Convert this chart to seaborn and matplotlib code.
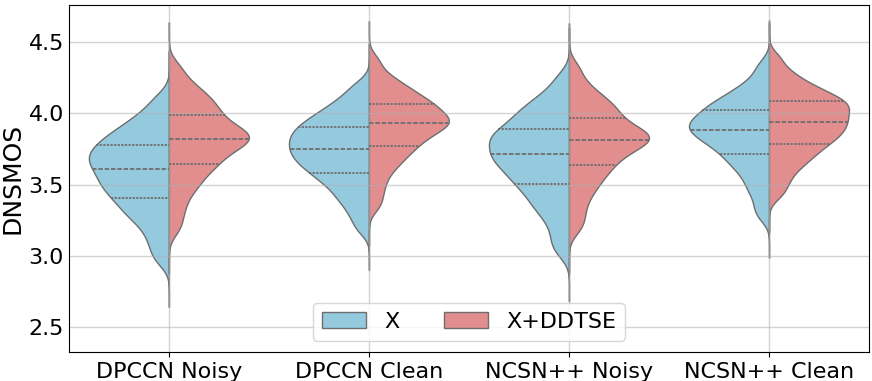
import matplotlib.pyplot as plt
import seaborn as sns
import pandas as pd

# Models on the x axis and the two systems compared in each split violin
models = ['DPCCN Noisy', 'DPCCN Clean', 'NCSN++ Noisy', 'NCSN++ Clean']
systems = ['X', 'X+DDTSE']

# DNSMOS scores per model / system (40 each)
dpccn_noisy_x = [2.97, 3.05, 3.12, 3.18, 3.23, 3.27, 3.30, 3.33, 3.36, 3.39,
                 3.41, 3.435, 3.46, 3.48, 3.50, 3.52, 3.54, 3.56, 3.58, 3.60,
                 3.62, 3.637, 3.654, 3.671, 3.688, 3.705, 3.722, 3.74, 3.758, 3.776,
                 3.795, 3.815, 3.84, 3.86, 3.885, 3.91, 3.95, 3.98, 4.035, 4.11]
dpccn_noisy_ddtse = [3.19, 3.28, 3.355, 3.42, 3.47, 3.51, 3.54, 3.58, 3.61, 3.63,
                     3.65, 3.68, 3.70, 3.72, 3.74, 3.758, 3.775, 3.79, 3.803, 3.816,
                     3.829, 3.842, 3.855, 3.868, 3.882, 3.898, 3.915, 3.935, 3.957, 3.98,
                     4.00, 4.02, 4.05, 4.07, 4.10, 4.12, 4.16, 4.19, 4.245, 4.325]
dpccn_clean_x = [3.19, 3.27, 3.33, 3.38, 3.42, 3.45, 3.49, 3.52, 3.54, 3.56,
                 3.59, 3.61, 3.63, 3.64, 3.66, 3.68, 3.70, 3.71, 3.73, 3.74,
                 3.76, 3.775, 3.79, 3.81, 3.82, 3.84, 3.85, 3.87, 3.89, 3.90,
                 3.92, 3.94, 3.96, 3.98, 4.00, 4.03, 4.06, 4.09, 4.14, 4.20]
dpccn_clean_ddtse = [3.35, 3.43, 3.50, 3.56, 3.61, 3.645, 3.675, 3.71, 3.73, 3.755,
                     3.775, 3.80, 3.82, 3.835, 3.85, 3.87, 3.885, 3.90, 3.915, 3.925,
                     3.935, 3.945, 3.96, 3.97, 3.985, 4.00, 4.015, 4.03, 4.045, 4.06,
                     4.075, 4.09, 4.11, 4.13, 4.155, 4.175, 4.20, 4.24, 4.28, 4.37]
ncsn_noisy_x = [3.03, 3.11, 3.19, 3.26, 3.31, 3.35, 3.39, 3.42, 3.46, 3.49,
                3.51, 3.54, 3.56, 3.59, 3.61, 3.63, 3.65, 3.67, 3.69, 3.71,
                3.72, 3.74, 3.76, 3.78, 3.80, 3.82, 3.835, 3.85, 3.865, 3.88,
                3.91, 3.935, 3.96, 3.98, 4.01, 4.04, 4.07, 4.11, 4.16, 4.25]
ncsn_noisy_ddtse = [3.19, 3.265, 3.335, 3.40, 3.45, 3.49, 3.53, 3.56, 3.59, 3.62,
                    3.64, 3.67, 3.69, 3.71, 3.73, 3.75, 3.766, 3.781, 3.795, 3.808,
                    3.82, 3.832, 3.844, 3.856, 3.869, 3.883, 3.899, 3.917, 3.938, 3.96,
                    3.98, 4.00, 4.03, 4.05, 4.07, 4.10, 4.135, 4.17, 4.23, 4.32]
ncsn_clean_x = [3.28, 3.355, 3.43, 3.48, 3.53, 3.57, 3.61, 3.64, 3.665, 3.69,
                3.72, 3.74, 3.76, 3.78, 3.80, 3.815, 3.83, 3.85, 3.86, 3.875,
                3.89, 3.90, 3.915, 3.93, 3.94, 3.955, 3.97, 3.985, 4.00, 4.02,
                4.035, 4.055, 4.07, 4.09, 4.11, 4.14, 4.17, 4.20, 4.26, 4.34]
ncsn_clean_ddtse = [3.43, 3.50, 3.555, 3.605, 3.64, 3.67, 3.70, 3.725, 3.745, 3.77,
                    3.79, 3.81, 3.825, 3.84, 3.86, 3.875, 3.89, 3.905, 3.92, 3.935,
                    3.95, 3.965, 3.98, 3.995, 4.01, 4.025, 4.04, 4.055, 4.07, 4.08,
                    4.095, 4.11, 4.13, 4.15, 4.17, 4.19, 4.22, 4.26, 4.30, 4.385]

scores = {
    ('DPCCN Noisy', 'X'): dpccn_noisy_x,
    ('DPCCN Noisy', 'X+DDTSE'): dpccn_noisy_ddtse,
    ('DPCCN Clean', 'X'): dpccn_clean_x,
    ('DPCCN Clean', 'X+DDTSE'): dpccn_clean_ddtse,
    ('NCSN++ Noisy', 'X'): ncsn_noisy_x,
    ('NCSN++ Noisy', 'X+DDTSE'): ncsn_noisy_ddtse,
    ('NCSN++ Clean', 'X'): ncsn_clean_x,
    ('NCSN++ Clean', 'X+DDTSE'): ncsn_clean_ddtse,
}

rows = []
for (model, system), vals in scores.items():
    for v in vals:
        rows.append((model, system, v))
df = pd.DataFrame(rows, columns=['Model', 'System', 'DNSMOS'])

fig, ax = plt.subplots(figsize=(8.72, 3.81), dpi=100)
fig.subplots_adjust(left=0.079, right=0.9966, bottom=0.076, top=0.988)

# one call per model so each pair is scaled on its own (old scale_hue look)
for i, model in enumerate(models):
    sns.violinplot(data=df[df['Model'] == model], x='Model', y='DNSMOS',
                   hue='System', order=models, hue_order=systems,
                   split=True, inner='quart',
                   palette=['skyblue', 'lightcoral'], linecolor='#6e6e6e',
                   linewidth=1, bw_adjust=0.5, cut=5,
                   inner_kws={'linewidth': 1.3}, legend=(i == 0), ax=ax)

# grid sits over the fills, half transparent like the original
ax.grid(True, color='#b0b0b0', alpha=0.55, linewidth=1)
ax.set_ylim(2.325, 4.763)
ax.set_xlabel('')
ax.set_ylabel('DNSMOS', fontsize=18, labelpad=3)
ax.tick_params(labelsize=16)
ax.tick_params(axis='y', length=0)
sns.move_legend(ax, 'lower center', ncol=2, fontsize=16, title=None)

plt.savefig('out.png', dpi=100)
